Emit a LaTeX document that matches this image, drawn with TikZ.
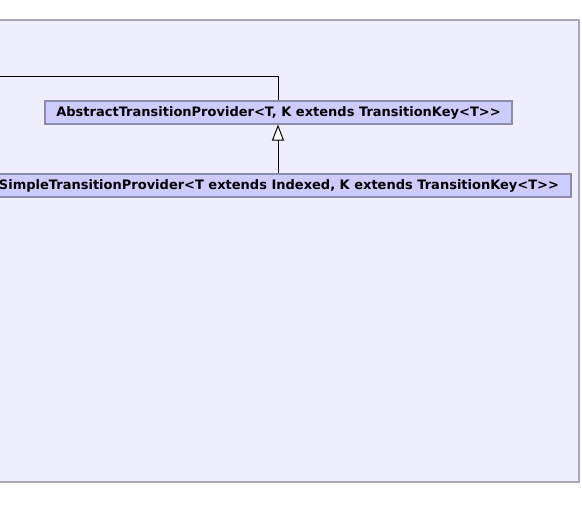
\documentclass[tikz,border=0pt]{standalone}
\usepackage{fontspec}
\setmainfont[Ligatures=ResetAll]{DejaVu Sans}
\usepackage{tikz}
\usetikzlibrary{arrows.meta,positioning}
\definecolor{panelfill}{HTML}{EEEEFF}
\definecolor{paneldraw}{HTML}{A8A8B8}
\definecolor{classfill}{HTML}{CCCCFF}
\definecolor{classdraw}{HTML}{8C8CA8}
\tikzset{
  panel/.style={draw=paneldraw, fill=panelfill, line width=0.8pt},
  classbox/.style={draw=classdraw, fill=classfill, line width=0.8pt,
    minimum height=23*0.75pt, inner sep=0pt, font=\bfseries\fontsize{9.75}{12}\selectfont},
  link/.style={draw=black, line width=0.75pt},
  inherit/.style={link, {Triangle[open, length=12pt, width=9pt, fill=white]}-}
}
\begin{document}
\begin{tikzpicture}[x=0.75pt,y=-0.75pt]
        \useasboundingbox (0,0) rectangle (582,520);
        \clip (0,0) rectangle (582,520);
        \draw[panel] (-10,20) rectangle (579,482);
        \node[classbox, minimum width=467*0.75pt] (abstract) at (278.5,112.5)
          {AbstractTransitionProvider<T, K extends TransitionKey<T>{}>};
        \node[classbox, minimum width=584*0.75pt] (simple) at (279,185.5)
          {SimpleTransitionProvider<T extends Indexed, K extends TransitionKey<T>{}>};
        \coordinate (outer) at (-10,77);
        \draw[link] (outer) -| (abstract.north -| 278,0);
        \draw[inherit] (abstract.south -| 278,0) -- (simple.north -| 278,0);
      \end{tikzpicture}
\end{document}
